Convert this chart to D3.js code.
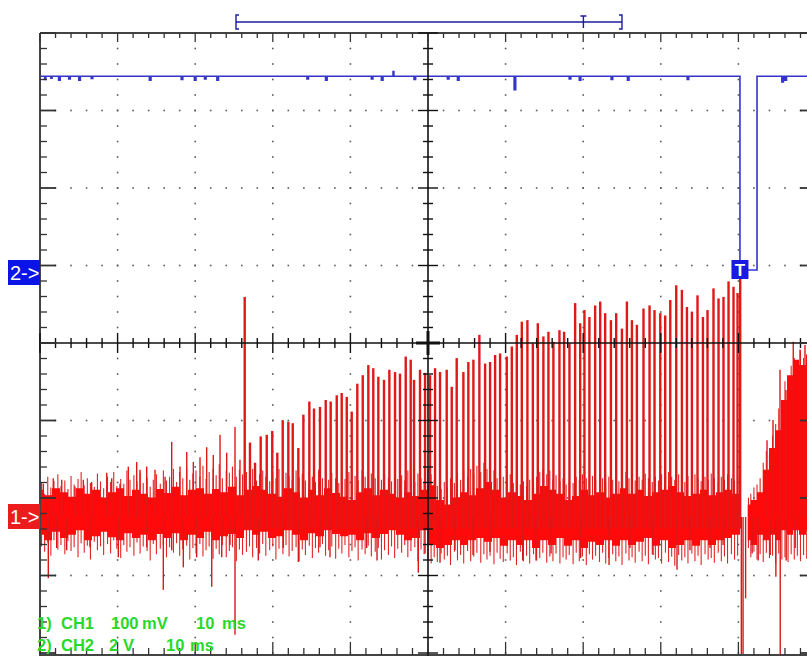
<!DOCTYPE html>
<html><head><meta charset="utf-8">
<script src="https://cdn.jsdelivr.net/npm/d3@7"></script>
<style>html,body{margin:0;padding:0;background:#fff;overflow:hidden}</style>
</head><body><svg id="c" width="807" height="656"></svg>
<script>
// ---------- settings ----------
const timePerDiv = 10;        // ms / div
const ch1PerDiv = 100;        // mV / div
const ch2PerDiv = 2;          // V / div
const ch1OffsetDiv = -2.245;  // CH1 reference position (div from centre)
const ch2OffsetDiv = 0.942;   // CH2 reference position (div from centre)
const triggerTime = 90.2;     // ms from left edge
const memWindow = [0, 100];   // memory bar window (%)
const memTrigger = 90;        // trigger position in memory bar (%)
const labelLine1 = ["1)", "CH1", "100", "mV", "10", "ms"];
const labelLine2 = ["2)", "CH2", "2", "V", "10", "ms"];

// ---------- CH1 (mV): dense noise band [t ms, low, high] ----------
const ch1Band = [[0,-23,35],[1.03,-30,28],[2.06,-19,37],[3.09,-27,32],[4.12,-23,26],[5.15,-17,37],[6.19,-30,30],[7.22,-25,35],[8.25,-19,25],[9.28,-26,32],[10.31,-30,37],[11.34,-21,27],[12.37,-27,35],[13.4,-23,30],[14.43,-30,25],[15.46,-22,36],[16.5,-27,31],[17.53,-21,39],[18.56,-30,28],[19.59,-23,35],[20.62,-27,37],[21.65,-19,30],[22.68,-30,36],[23.71,-25,32],[24.74,-22,39],[25.77,-27,28],[26.8,-17,35],[27.84,-23,40],[28.87,-19,35],[29.9,-27,30],[30.93,-25,26],[31.96,-17,37],[32.99,-23,32],[34.02,-30,25],[35.05,-21,35],[36.08,-25,28],[37.11,-17,37],[38.15,-22,31],[39.18,-25,26],[40.21,-23,22],[41.24,-30,32],[42.27,-21,37],[43.3,-27,28],[44.33,-22,35],[45.36,-17,30],[46.39,-23,25],[47.42,-30,32],[48.46,-27,27],[49.49,-17,35],[50.52,-36,41],[51.55,-40,22],[52.58,-36,16],[53.61,-30,25],[54.64,-36,32],[55.67,-30,28],[56.7,-27,37],[57.73,-32,45],[58.76,-27,35],[59.8,-37,25],[60.83,-30,32],[61.86,-36,27],[62.89,-30,22],[63.92,-40,30],[64.95,-30,40],[65.98,-36,35],[67.01,-27,30],[68.04,-37,22],[69.07,-30,27],[70.11,-40,35],[71.14,-32,28],[72.17,-36,32],[73.2,-30,25],[74.23,-37,30],[75.26,-30,37],[76.29,-36,30],[77.32,-32,35],[78.35,-27,27],[79.38,-37,32],[80.41,-30,35],[81.44,-40,40],[82.48,-36,32],[83.51,-30,27],[84.54,-37,30],[85.57,-30,35],[86.6,-36,28],[87.63,-30,32],[88.66,-27,35],[89.69,-23,30],[90.21,-23,30]];
const ch1Burst = [[91.2,-30,16],[92.01,-36,22],[92.78,-23,32],[93.56,-30,61],[94.33,-23,89],[95.1,-30,112],[95.88,-17,151],[96.65,-23,183],[97.42,-17,203],[98.2,-23,196],[99.23,-17,209],[100,-20,205]];
// fine noise strokes around the band [t ms, low, high]
const ch1Texture = [[0.2,-38,44],[0.6,-45,30],[1.0,-33,52],[1.4,-50,38],[1.8,-30,46],[2.3,-42,55],[2.7,-36,40],[3.2,-48,47],[3.6,-31,36],[4.0,-44,53],[4.4,-39,42],[4.9,-52,49],[5.3,-34,58],[5.7,-46,41],[6.1,-37,50],[6.5,-55,44],[7.0,-32,39],[7.4,-43,56],[7.8,-38,46],[8.2,-49,37],[8.7,-35,52],[9.1,-47,45],[9.5,-30,58],[9.9,-41,40],[10.4,-53,49],[10.8,-36,43],[11.2,-45,60],[11.6,-39,48],[12.1,-50,54],[12.5,-33,46],[12.9,-47,57],[13.3,-38,44],[13.8,-44,51],[14.2,-56,39],[14.6,-35,48],[15.0,-48,55],[15.5,-41,43],[15.9,-36,60],[16.3,-52,47],[16.7,-39,52],[17.2,-46,62],[17.6,-34,45],[18.0,-50,58],[18.4,-42,50],[18.9,-37,64],[19.3,-55,48],[19.7,-40,56],[20.1,-47,60],[20.6,-35,52],[21.0,-51,66],[21.4,-43,49],[21.8,-38,58],[22.3,-54,62],[22.7,-41,54],[23.1,-48,68],[23.5,-36,50],[24.0,-52,60],[24.4,-44,57],[24.8,-39,65],[25.3,-57,52],[25.7,-42,61],[26.1,-49,55],
  [26.6,-45,58],[27.0,-38,50],[27.4,-52,62],[27.9,-40,47],[28.3,-47,55],[28.7,-35,60],[29.1,-50,52],[29.6,-43,46],[30.0,-38,58],[30.4,-55,50],[30.8,-41,62],[31.3,-48,45],[31.7,-36,57],[32.1,-51,53],[32.5,-44,48],[33.0,-39,60],[33.4,-57,51],[33.8,-42,56],[34.2,-49,47],[34.7,-37,58],[35.1,-53,52],[35.5,-40,45],[35.9,-46,61],[36.4,-35,50],[36.8,-50,55],[37.2,-43,48],[37.6,-38,57],[38.1,-54,50],[38.5,-41,44],[38.9,-47,55],[39.3,-36,49],[39.8,-52,58],[40.2,-44,46],[40.6,-39,53],[41.0,-56,47],[41.5,-42,60],[41.9,-48,52],[42.3,-37,45],[42.7,-51,56],[43.2,-45,50],[43.6,-40,62],[44.0,-55,48],[44.4,-43,55],[44.9,-49,51],[45.3,-38,46],[45.7,-53,58],[46.1,-41,49],[46.6,-46,54],[47.0,-36,47],[47.4,-52,60],[47.8,-44,52],[48.3,-39,45],[48.7,-57,56],[49.1,-42,50],[49.5,-48,44],[50.0,-55,62],
  [50.4,-60,55],[50.8,-52,48],[51.2,-58,40],[51.7,-47,36],[52.1,-55,45],[52.5,-50,38],[52.9,-62,50],[53.4,-45,44],[53.8,-56,57],[54.2,-49,48],[54.6,-60,60],[55.1,-44,52],[55.5,-57,62],[55.9,-51,55],[56.3,-46,66],[56.8,-59,58],[57.2,-48,70],[57.6,-55,62],[58.0,-50,56],[58.5,-61,60],[58.9,-46,50],[59.3,-54,45],[59.7,-58,52],[60.2,-47,48],[60.6,-56,55],[61.0,-52,44],[61.4,-62,50],[61.9,-45,42],[62.3,-57,46],[62.7,-50,40],[63.1,-60,48],[63.6,-48,43],[64.0,-56,52],[64.4,-53,58],[64.8,-46,62],[65.3,-59,55],[65.7,-51,60],[66.1,-57,48],[66.5,-47,54],[67.0,-60,46],[67.4,-52,50],[67.8,-55,42],[68.2,-49,47],[68.7,-61,44],[69.1,-46,52],[69.5,-57,48],[69.9,-51,55],[70.4,-62,50],[70.8,-48,45],[71.2,-55,53],[71.6,-50,47],[72.1,-58,56],[72.5,-46,50],[72.9,-60,45],[73.3,-53,52],[73.8,-48,48],[74.2,-57,55],[74.6,-51,46],[75.0,-62,53],[75.5,-47,58],[75.9,-56,50],[76.3,-52,55],[76.7,-59,47],[77.2,-45,52],[77.6,-57,48],[78.0,-50,56],[78.4,-61,50],[78.9,-48,45],[79.3,-55,52],[79.7,-53,47],[80.1,-60,55],[80.6,-46,50],[81.0,-58,58],[81.4,-51,52],[81.8,-63,48],[82.3,-49,55],[82.7,-56,50],[83.1,-52,45],[83.5,-60,53],[84.0,-47,48],[84.4,-57,55],[84.8,-50,50],[85.2,-62,46],[85.7,-48,52],[86.1,-55,48],[86.5,-53,56],[86.9,-59,50],[87.4,-46,45],[87.8,-57,52],[88.2,-51,48],[88.6,-60,55],[89.1,-48,50],[89.5,-55,47],[89.9,-50,52],
  [91.3,-40,25],[91.6,-52,30],[92.0,-45,38],[92.4,-55,42],[92.8,-48,50],[93.2,-58,70],[93.6,-46,85],[94.0,-53,80],[94.4,-50,105],[94.8,-60,120],[95.2,-47,140],[95.6,-55,150],[96.0,-52,175],[96.4,-58,160],[96.8,-48,195],[97.2,-55,205],[97.6,-50,200],[98.0,-57,215],[98.4,-49,205],[98.8,-54,210],[99.2,-51,220],[99.6,-56,215]];
// pulse peaks [t ms, mV]
const ch1Peaks = [[26.38,284],[27.06,96],[27.71,70],[28.44,104],[29.22,106],[29.93,111],[30.58,83],[31.28,125],[32.0,123],[32.57,121],[33.29,89],[33.94,132],[34.71,149],[35.31,140],[36.08,142],[36.82,151],[37.46,149],[38.24,157],[38.88,160],[39.53,155],[40.17,136],[40.89,172],[41.59,183],[42.31,196],[42.95,192],[43.6,181],[44.33,177],[45.02,190],[45.75,187],[46.39,185],[47.13,207],[47.77,203],[48.2,177],[48.97,190],[49.62,186],[50.26,183],[50.91,192],[51.55,187],[52.41,190],[53.06,168],[53.7,205],[54.56,187],[55.2,200],[55.85,203],[56.62,235],[57.36,198],[58.0,200],[58.65,209],[59.29,211],[60.15,207],[60.8,220],[61.44,235],[62.09,252],[62.81,254],[63.51,224],[64.15,250],[64.87,233],[65.52,239],[66.16,226],[66.94,241],[67.54,239],[68.23,224],[68.96,276],[69.61,250],[70.16,267],[70.8,258],[71.54,273],[72.19,278],[72.83,263],[73.57,254],[74.25,263],[74.99,243],[75.63,278],[76.28,254],[76.92,248],[77.77,269],[78.55,273],[79.19,267],[79.93,263],[80.57,260],[81.22,280],[81.99,299],[82.72,293],[83.37,271],[84.01,265],[84.73,286],[85.43,258],[86.02,267],[86.79,295],[87.44,282],[88.08,284],[88.73,304],[89.37,297],[89.89,289],[90.23,310]];
// small upward noise spikes [t ms, mV]
const ch1Hairs = [[0.43,43],[1.71,50],[2.8,48],[4.51,39],[5.58,48],[6.66,45],[8.6,57],[9.24,50],[10.31,43],[11.38,65],[12.46,71],[12.89,61],[13.75,65],[14.82,61],[16.12,52],[16.97,97],[18.04,65],[18.91,84],[19.76,71],[20.62,77],[21.48,90],[22.33,80],[23.2,106],[24.06,83],[25.13,116],[25.77,74],[93.69,99],[94.46,125],[95.36,190],[96.13,164],[97.07,226],[97.94,216],[98.58,222]];
// downward spikes [t ms, mV]
const ch1Dips = [[1.07,-79],[2.15,-40],[3.44,-43],[6.44,-39],[10.09,-52],[13.75,-39],[15.89,-94],[16.97,-43],[18.47,-65],[20.19,-52],[22.13,-90],[23.42,-52],[24.48,-36],[25.13,-152],[28.13,-56],[31.35,-40],[33.29,-58],[36.08,-39],[37.37,-52],[42.1,-40],[43.43,-56],[48.75,-72],[49.62,-47],[51.55,-59],[53.48,-43],[55.8,-49],[57.99,-45],[62.2,-56],[63.92,-56],[65.86,-47],[69.67,-53],[73.33,-62],[76.03,-40],[79.0,-49],[82.09,-68],[83.76,-43],[86.34,-40],[88.02,-36],[90.38,-185],[90.6,-185],[90.93,-105],[91.77,-47],[92.55,-56],[94.1,-49],[94.83,-77],[95.39,-185],[96.16,-56],[97.32,-40]];

// ---------- CH2 (V): [t ms, V] step trace ----------
const ch2Trace = [[0,5.0],[0.6,4.92],[0.75,5.0],[1.4,4.95],[1.55,5.0],[2.4,4.9],[2.6,5.0],[3.7,4.93],[3.9,5.0],[5.0,4.9],[5.2,5.0],[6.6,4.94],[6.8,5.0],[14.1,4.9],[14.3,5.0],[18.2,4.92],[18.4,5.0],[19.9,4.9],[20.1,5.0],[21.2,4.93],[21.4,5.0],[22.8,4.9],[23.0,5.0],[34.4,4.93],[34.6,5.0],[36.8,4.9],[37.0,5.0],[42.7,4.93],[42.9,5.0],[44.0,4.9],[44.2,5.0],[45.5,5.12],[45.6,5.0],[48.2,4.92],[48.4,5.0],[52.5,4.93],[52.7,5.0],[53.8,4.9],[54.0,5.0],[61.1,4.65],[61.3,5.0],[68.2,4.93],[68.4,5.0],[69.5,4.9],[69.7,5.0],[73.6,4.92],[73.8,5.0],[75.7,4.9],[75.9,5.0],[83.4,4.92],[83.6,5.0],[90.2,0.0],[92.4,5.0],[95.6,4.85],[95.8,5.0],[96.0,4.9],[96.2,5.0],[100,5.0]];

// ---------- drawing ----------
const svg = d3.select("#c");
const L = 40, R = 816, T = 33, B = 653;
const gx = d3.scaleLinear().domain([0, 10]).range([L, R]);
const gy = d3.scaleLinear().domain([0, 8]).range([T, B]);
const x = d3.scaleLinear().domain([0, 10 * timePerDiv]).range([L, R]);
const y1 = d3.scaleLinear().domain([(-4 - ch1OffsetDiv) * ch1PerDiv, (4 - ch1OffsetDiv) * ch1PerDiv]).range([B, T]);
const y2 = d3.scaleLinear().domain([(-4 - ch2OffsetDiv) * ch2PerDiv, (4 - ch2OffsetDiv) * ch2PerDiv]).range([B, T]);

svg.append("rect").attr("width", 807).attr("height", 656).attr("fill", "#fff");

// grid dots
const dots = svg.append("g").attr("fill", "#5a5a5a");
const minorX = d3.range(0, 50.5, 1).map(i => i / 5);
const minorY = d3.range(0, 40.5, 1).map(i => i / 5);
for (let k = 1; k < 10; k++) { if (k === 5) continue;
  minorY.forEach(v => dots.append("rect").attr("x", gx(k) - 0.8).attr("y", gy(v) - 0.8).attr("width", 1.6).attr("height", 1.6)); }
for (let j = 1; j < 8; j++) { if (j === 4) continue;
  minorX.forEach(v => dots.append("rect").attr("x", gx(v) - 0.8).attr("y", gy(j) - 0.8).attr("width", 1.6).attr("height", 1.6)); }

// CH2 trace (blue)
svg.append("path").datum(ch2Trace)
  .attr("d", d3.line().x(d => x(d[0])).y(d => y2(d[1])).curve(d3.curveStepAfter))
  .attr("fill", "none").attr("stroke", "#3434c8").attr("stroke-width", 1.6);

// CH1 trace (red)
const red = svg.append("g");
red.selectAll(".tx").data(ch1Texture).join("line")
  .attr("x1", d => x(d[0])).attr("x2", d => x(d[0]))
  .attr("y1", d => y1(d[1])).attr("y2", d => y1(d[2]))
  .attr("stroke", "#e22424").attr("stroke-width", 1.1);
const area = d3.area().x(d => x(d[0])).y0(d => y1(d[1])).y1(d => y1(d[2])).curve(d3.curveStep);
red.append("path").datum(ch1Band).attr("d", area).attr("fill", "#ff0a0a");
red.append("path").datum(ch1Burst).attr("d", area).attr("fill", "#ff0a0a");
red.selectAll(".pk").data(ch1Peaks).join("line")
  .attr("x1", d => x(d[0])).attr("x2", d => x(d[0]))
  .attr("y1", y1(-15)).attr("y2", d => y1(d[1]))
  .attr("stroke", "#e01818").attr("stroke-width", 2.4);
red.selectAll(".hr").data(ch1Hairs).join("line")
  .attr("x1", d => x(d[0])).attr("x2", d => x(d[0]))
  .attr("y1", y1(0)).attr("y2", d => y1(d[1]))
  .attr("stroke", "#e01818").attr("stroke-width", 1.4);
red.selectAll(".dp").data(ch1Dips).join("line")
  .attr("x1", d => x(d[0])).attr("x2", d => x(d[0]))
  .attr("y1", y1(0)).attr("y2", d => y1(d[1]))
  .attr("stroke", "#d81818").attr("stroke-width", 1.4);

// border and axes
const ax = svg.append("g").attr("stroke", "#111");
ax.append("line").attr("x1", L).attr("x2", R).attr("y1", T).attr("y2", T).attr("stroke", "#444").attr("stroke-width", 2);
ax.append("line").attr("x1", L).attr("x2", L).attr("y1", T).attr("y2", B + 3).attr("stroke", "#444").attr("stroke-width", 2);
ax.append("line").attr("x1", L).attr("x2", R).attr("y1", B + 2).attr("y2", B + 2).attr("stroke", "#444").attr("stroke-width", 2);
ax.append("line").attr("x1", L).attr("x2", R).attr("y1", gy(4)).attr("y2", gy(4)).attr("stroke-width", 1.6);
ax.append("line").attr("x1", gx(5)).attr("x2", gx(5)).attr("y1", T).attr("y2", B + 3).attr("stroke-width", 1.6);
minorX.forEach(v => {
  const maj = Math.abs(v - Math.round(v)) < 1e-6;
  ax.append("line").attr("x1", gx(v)).attr("x2", gx(v)).attr("y1", T).attr("y2", T + (maj ? 9 : 5)).attr("stroke", "#333").attr("stroke-width", 1.3);
  ax.append("line").attr("x1", gx(v)).attr("x2", gx(v)).attr("y1", B + 2).attr("y2", B + 2 - (maj ? 13 : 7)).attr("stroke", "#333").attr("stroke-width", 1.3);
  ax.append("line").attr("x1", gx(v)).attr("x2", gx(v)).attr("y1", gy(4) - (maj ? 10 : 5)).attr("y2", gy(4) + (maj ? 10 : 5)).attr("stroke-width", 1.4);
});
minorY.forEach(v => {
  const maj = Math.abs(v - Math.round(v)) < 1e-6;
  ax.append("line").attr("y1", gy(v)).attr("y2", gy(v)).attr("x1", L).attr("x2", L + (maj ? 16 : 7)).attr("stroke", "#333").attr("stroke-width", maj ? 1.8 : 1.3);
  ax.append("line").attr("y1", gy(v)).attr("y2", gy(v)).attr("x1", R).attr("x2", R - (maj ? 16 : 7)).attr("stroke", "#333").attr("stroke-width", 1.8);
  ax.append("line").attr("y1", gy(v)).attr("y2", gy(v)).attr("x1", gx(5) - (maj ? 10 : 5)).attr("x2", gx(5) + (maj ? 10 : 5)).attr("stroke-width", 1.4);
});
ax.append("line").attr("x1", gx(5) - 12).attr("x2", gx(5) + 12).attr("y1", gy(4)).attr("y2", gy(4)).attr("stroke-width", 3);
ax.append("line").attr("x1", gx(5)).attr("x2", gx(5)).attr("y1", gy(4) - 12).attr("y2", gy(4) + 12).attr("stroke-width", 3);

// memory bar on top
const mem = d3.scaleLinear().domain(memWindow).range([236, 622]);
const mb = svg.append("g").attr("stroke", "#1c1c9c").attr("stroke-width", 1.4).attr("fill", "none");
mb.append("line").attr("x1", mem(0)).attr("x2", mem(100)).attr("y1", 22).attr("y2", 22);
mb.append("path").attr("d", `M${mem(0) + 3},15 H${mem(0)} V29 H${mem(0) + 3}`);
mb.append("path").attr("d", `M${mem(100) - 3},15 H${mem(100)} V29 H${mem(100) - 3}`);
mb.append("path").attr("d", `M${mem(memTrigger) - 3},16 H${mem(memTrigger) + 3} M${mem(memTrigger)},16 V28`);

// channel markers
const font = "Liberation Sans, Arial, sans-serif";
const m2 = svg.append("g");
m2.append("rect").attr("x", 8).attr("y", y2(0) - 10).attr("width", 32).attr("height", 25).attr("fill", "#0a14e6");
m2.append("text").attr("x", 10).attr("y", y2(0) + 10).text("2->").attr("fill", "#fff")
  .attr("font-family", font).attr("font-size", 20);
const m1 = svg.append("g");
m1.append("rect").attr("x", 8).attr("y", y1(0) - 13).attr("width", 32).attr("height", 25).attr("fill", "#ec1c1c");
m1.append("text").attr("x", 10).attr("y", y1(0) + 7).text("1->").attr("fill", "#fff")
  .attr("font-family", font).attr("font-size", 20);

// trigger marker
svg.append("rect").attr("x", x(triggerTime) - 8.5).attr("y", y2(0) - 10).attr("width", 17).attr("height", 19).attr("fill", "#1a1ae0");
svg.append("text").attr("x", x(triggerTime)).attr("y", y2(0) + 6).attr("text-anchor", "middle").text("T")
  .attr("fill", "#fff").attr("font-family", font).attr("font-weight", "bold").attr("font-size", 17);

// channel settings text
const lx1 = [37, 61, 111, 142, 196, 222];
const lx2 = [37, 61, 109, 123, 166, 190];
const txt = svg.append("g").attr("fill", "#2ad82a").attr("font-family", font)
  .attr("font-weight", "bold").attr("font-size", 16.5);
labelLine1.forEach((s, i) => txt.append("text").attr("x", lx1[i]).attr("y", 629).text(s));
labelLine2.forEach((s, i) => txt.append("text").attr("x", lx2[i]).attr("y", 651).text(s));
</script></body></html>
